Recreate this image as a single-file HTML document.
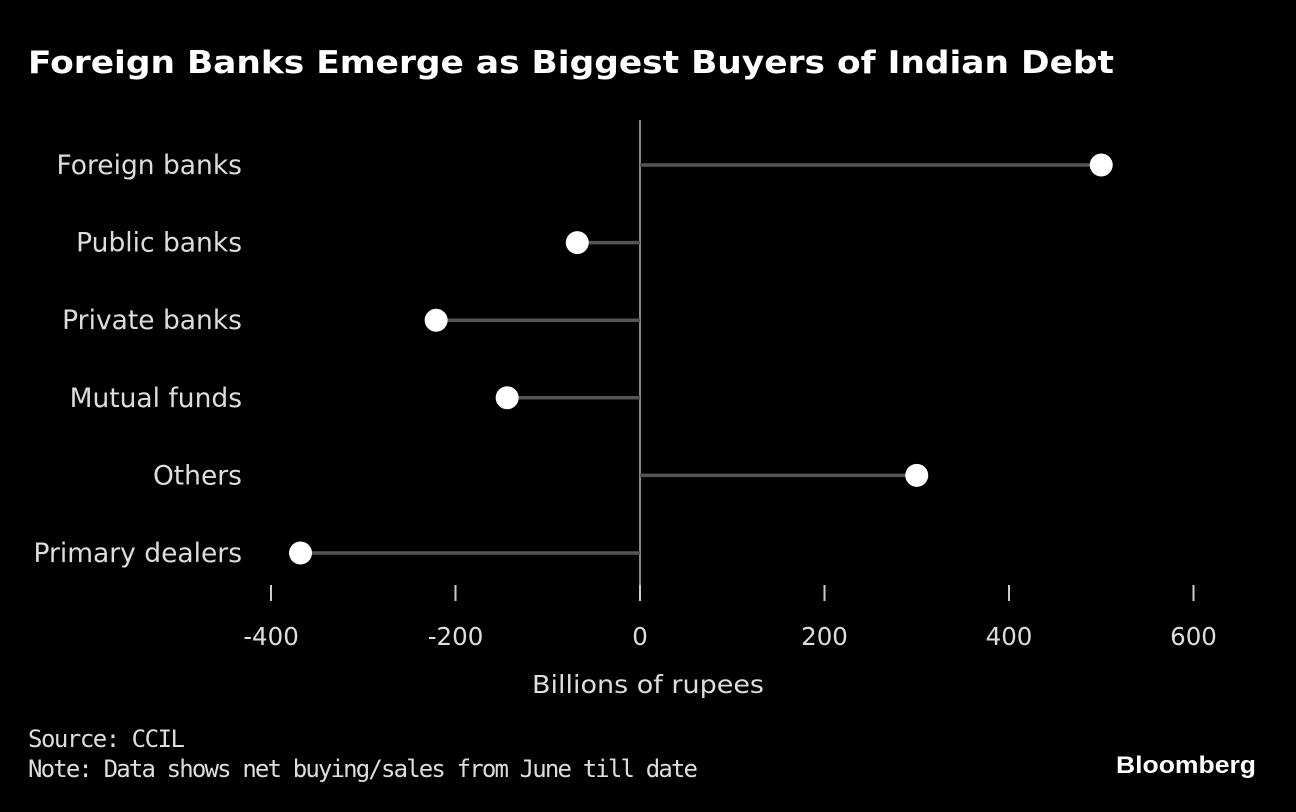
<!DOCTYPE html>
<html><head><meta charset="utf-8"><style>
body{margin:0;background:#000;width:1296px;height:808px;overflow:hidden;font-family:"DejaVu Sans","Liberation Sans",sans-serif}
</style></head><body>
<svg width="1296" height="808">
<text x="28" y="73" fill="#fff" font-size="31" font-weight="bold" textLength="1086" lengthAdjust="spacingAndGlyphs">Foreign Banks Emerge as Biggest Buyers of Indian Debt</text>
<g id="plot"></g>
<text x="648" y="693" fill="#ddd" font-size="25" text-anchor="middle" textLength="232" lengthAdjust="spacingAndGlyphs">Billions of rupees</text>
<text x="28" y="747" fill="#ddd" font-size="24" font-family="DejaVu Sans Mono, monospace" textLength="157">Source: CCIL</text>
<text x="28" y="777" fill="#ddd" font-size="24" font-family="DejaVu Sans Mono, monospace" textLength="670">Note: Data shows net buying/sales from June till date</text>
<text x="1116" y="773" fill="#fff" font-size="24" font-weight="bold" font-family="Liberation Sans, sans-serif" textLength="140" lengthAdjust="spacingAndGlyphs">Bloomberg</text>
</svg>
<script>
const categories=["Foreign banks","Public banks","Private banks","Mutual funds","Others","Primary dealers"];
const values=[500,-68,-221,-144,300,-368];
const ticks=[-400,-200,0,200,400,600];
const tickLabels=["-400","-200","0","200","400","600"];
const ns="http://www.w3.org/2000/svg";
const g=document.getElementById('plot');
const x=v=>640+v*0.9225;
const y=i=>165+i*77.6;
function mk(t,a){const e=document.createElementNS(ns,t);for(const k in a)e.setAttribute(k,a[k]);g.appendChild(e);return e;}
const zl=mk('line',{x1:x(0),x2:x(0),y1:120,y2:586,stroke:'#888','stroke-width':2});


ticks.forEach((t,i)=>{
 const l=mk('line',{x1:x(t),x2:x(t),y1:585,y2:601,stroke:'#ccc','stroke-width':2});
 
 
 const tx=mk('text',{x:x(t),y:645,fill:'#ddd','font-size':24.5,'text-anchor':'middle'});
 tx.textContent=tickLabels[i];
 
 
});
categories.forEach((c,i)=>{
 const lb=mk('text',{x:242,y:y(i)+9,fill:'#ddd','font-size':26.5,'text-anchor':'end'});
 lb.textContent=c;
 
 
 const s=mk('line',{x1:x(0),x2:x(values[i]),y1:y(i),y2:y(i),stroke:'#555','stroke-width':3.5});
 
 
 const d=mk('circle',{cx:x(values[i]),cy:y(i),r:11.5,fill:'#fff'});
 
 
});
</script>
</body></html>
